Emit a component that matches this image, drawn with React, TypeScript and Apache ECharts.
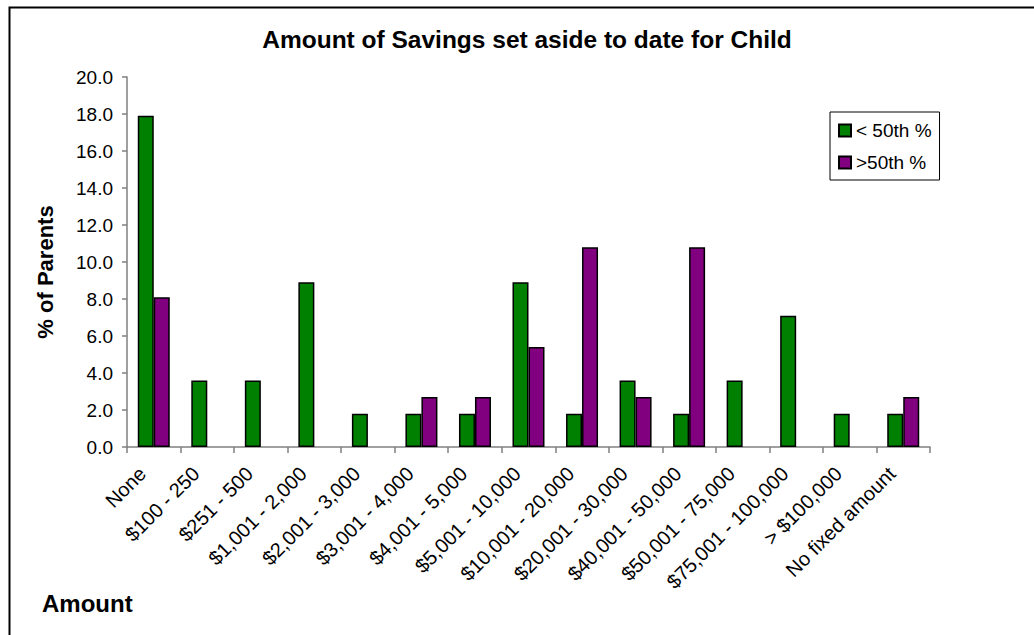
import React, { useEffect, useRef } from "react";
import * as echarts from "echarts";

const categories = [
  "None",
  "$100 - 250",
  "$251 - 500",
  "$1,001 - 2,000",
  "$2,001 - 3,000",
  "$3,001 - 4,000",
  "$4,001 - 5,000",
  "$5,001 - 10,000",
  "$10,001 - 20,000",
  "$20,001 - 30,000",
  "$40,001 - 50,000",
  "$50,001 - 75,000",
  "$75,001 - 100,000",
  "> $100,000",
  "No fixed amount",
];

const below50 = [17.9, 3.6, 3.6, 8.9, 1.8, 1.8, 1.8, 8.9, 1.8, 3.6, 1.8, 3.6, 7.1, 1.8, 1.8];
const above50 = [8.1, 0, 0, 0, 0, 2.7, 2.7, 5.4, 10.8, 2.7, 10.8, 0, 0, 0, 2.7];

const seriesNames = ["< 50th %", ">50th %"];
const title = "Amount of Savings set aside to date for Child";
const yTitle = "% of Parents";
const xTitle = "Amount";

const FONT = "Arial, 'Liberation Sans', Helvetica, sans-serif";

// zero-height bars are not drawn in the reference
const hideZero = (arr: number[]) => arr.map((v) => (v === 0 ? null : v));

export default function App() {
  const ref = useRef<HTMLDivElement>(null);
  useEffect(() => {
    if (!ref.current) return;
    const chart = echarts.init(ref.current, undefined, { renderer: "svg" });
    const barStyle = (color: string) => ({
      color,
      borderColor: "#000",
      borderWidth: 1.5,
    });
    chart.setOption({
      animation: false,
      backgroundColor: "#fff",
      textStyle: { fontFamily: FONT, color: "#000" },
      legend: {
        orient: "vertical",
        left: 830,
        top: 112,
        padding: [9, 8, 8, 8],
        itemWidth: 12,
        itemHeight: 12,
        itemGap: 13,
        borderColor: "#000",
        borderWidth: 1,
        icon: "rect",
        textStyle: { fontFamily: FONT, fontSize: 19, color: "#000" },
        data: seriesNames,
      },
      grid: { left: 127, top: 77, right: 104, bottom: 188, containLabel: false },
      xAxis: {
        type: "category",
        data: categories,
        boundaryGap: true,
        axisLine: { lineStyle: { color: "#808080", width: 1.5 } },
        axisTick: { show: true, length: 6, lineStyle: { color: "#808080", width: 1.5 } },
        axisLabel: {
          rotate: 45,
          interval: 0,
          margin: 12,
          padding: [0, 16, 0, 0],
          fontFamily: FONT,
          fontSize: 20,
          color: "#000",
        },
      },
      yAxis: {
        type: "value",
        min: 0,
        max: 20,
        interval: 2,
        axisLine: { show: true, lineStyle: { color: "#808080", width: 1.5 } },
        axisTick: { show: true, length: 5, lineStyle: { color: "#808080", width: 1.5 } },
        splitLine: { show: false },
        axisLabel: {
          formatter: (v: number) => v.toFixed(1),
          margin: 14,
          fontFamily: FONT,
          fontSize: 19,
          color: "#000",
        },
      },
      series: [
        {
          name: seriesNames[0],
          type: "bar",
          data: hideZero(below50),
          barWidth: 16,
          barGap: "0%",
          itemStyle: barStyle("#008000"),
        },
        {
          name: seriesNames[1],
          type: "bar",
          data: hideZero(above50),
          barWidth: 16,
          barGap: "0%",
          itemStyle: barStyle("#800080"),
        },
      ],
      graphic: [
        {
          type: "rect",
          left: 7,
          top: 5,
          shape: { x: 0, y: 0, width: 1060, height: 660 },
          style: { fill: "none", stroke: "#000", lineWidth: 2 },
          silent: true,
        },
        {
          type: "text",
          x: 527,
          y: 39,
          style: {
            text: title,
            fontFamily: FONT,
            fontSize: 24.5,
            fontWeight: "bold",
            fill: "#000",
            align: "center",
            verticalAlign: "middle",
          },
        },
        {
          type: "text",
          x: 45,
          y: 272,
          rotation: Math.PI / 2,
          style: {
            text: yTitle,
            fontFamily: FONT,
            fontSize: 22,
            fontWeight: "bold",
            fill: "#000",
            align: "center",
            verticalAlign: "middle",
          },
        },
        {
          type: "text",
          x: 42,
          y: 603,
          style: {
            text: xTitle,
            fontFamily: FONT,
            fontSize: 24,
            fontWeight: "bold",
            fill: "#000",
            align: "left",
            verticalAlign: "middle",
          },
        },
      ],
    });
    return () => chart.dispose();
  }, []);
  return (
    <div
      ref={ref}
      style={{ position: "fixed", left: 0, top: 0, width: 1034, height: 635, background: "#fff" }}
    />
  );
}
